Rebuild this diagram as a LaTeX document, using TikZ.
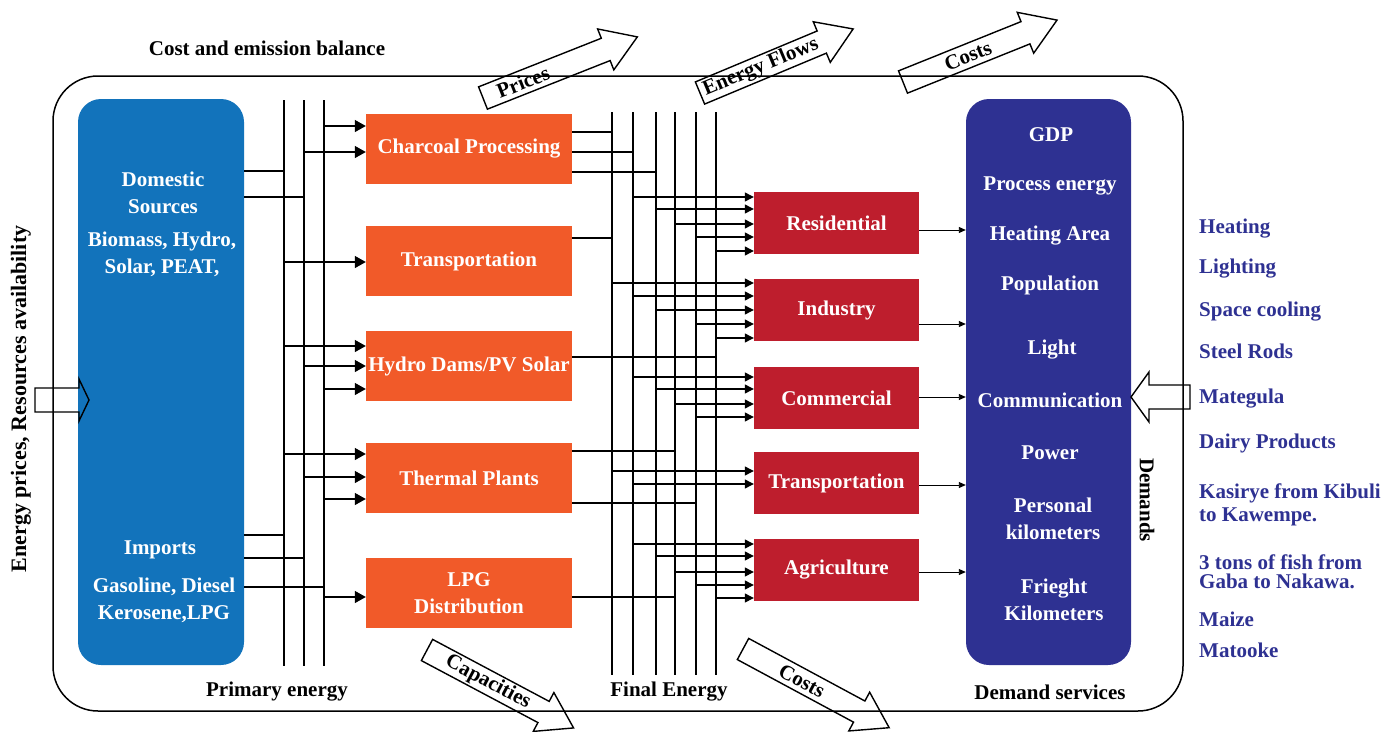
\documentclass[tikz,border=0pt]{standalone}
\usepackage{fontspec}
\setmainfont{Liberation Serif}
\usetikzlibrary{arrows.meta}
\definecolor{srcblue}{RGB}{18,115,187}
\definecolor{procorange}{RGB}{241,90,41}
\definecolor{secred}{RGB}{190,30,45}
\definecolor{demblue}{RGB}{46,49,146}
\newcommand\hollowarrow[5]{%
  \begin{scope}[shift={(#1,#2)},rotate=#3]
    \draw[hollowline] (0,-12) -- (132,-12) -- (132,-22) -- (166,0) -- (132,22) -- (132,12) -- (0,12) -- cycle;
    \node[lbl,rotate=#3] at (#4,0) {#5};
  \end{scope}}
\begin{document}
\begin{tikzpicture}[x=1pt,y=-1pt,
  lbl/.style={font=\fontsize{21}{27}\selectfont\bfseries, inner sep=0pt, align=center},
  srcbox/.style={fill=srcblue, rounded corners=23pt, minimum width=166pt, minimum height=566pt, inner sep=0pt},
  dembox/.style={fill=demblue, rounded corners=23pt, minimum width=165pt, minimum height=566pt, inner sep=0pt},
  procbox/.style={lbl, fill=procorange, text=white, minimum width=206pt, minimum height=70pt},
  secbox/.style={lbl, fill=secred, text=white, minimum width=165pt, minimum height=62pt},
  wtxt/.style={lbl, text=white},
  listtxt/.style={lbl, text=demblue, anchor=west},
  hollowline/.style={line width=1.4pt, line join=miter},
  bus/.style={line width=1.7pt},
  feed/.style={line width=1.7pt},
  tap/.style={line width=1.3pt, -{Triangle[length=11pt,width=12pt]}},
  tapb/.style={line width=1.2pt, -{Triangle[length=9pt,width=9pt]}},
  thinarr/.style={line width=0.9pt, -{Triangle[length=7pt,width=6pt]}}]
\useasboundingbox (0,0) rectangle (1397,731);

% outer frame
\draw[line width=1.5pt, rounded corners=45pt] (53,76) rectangle (1183,711);

% main blocks
\node[srcbox] (src) at (161,382) {};
\node[dembox] (dem) at (1048.5,382) {};

\node[procbox] (charcoal) at (469,149) {Charcoal Processing};
\node[procbox] (ptrans) at (469,261) {Transportation};
\node[procbox] (hydro) at (469,366) {Hydro Dams/PV Solar};
\node[procbox] (thermal) at (469,478) {Thermal Plants};
\node[procbox] (lpg) at (469,593) {LPG\\Distribution};

\node[secbox] (resid) at (836.5,223) {Residential};
\node[secbox] (indus) at (836.5,310) {Industry};
\node[secbox] (comm) at (836.5,398) {Commercial};
\node[secbox] (strans) at (836.5,483) {Transportation};
\node[secbox] (agri) at (836.5,570) {Agriculture};

% texts in source box
\node[wtxt] (dom) at (163,193) {Domestic\\Sources};
\node[wtxt] (bio) at (162,254) {Biomass, Hydro,\\Solar, PEAT,};
\node[wtxt] (imp) at (160,550) {Imports};
\node[wtxt] (gas) at (164,600) {Gasoline, Diesel\\Kerosene,LPG};

% texts in demand box
\node[wtxt] (gdp) at (1051,135) {GDP};
\node[wtxt] (proc) at (1050,186) {Process energy};
\node[wtxt] (heat) at (1050,236) {Heating Area};
\node[wtxt] (pop) at (1050,285) {Population};
\node[wtxt] (light) at (1052,350) {Light};
\node[wtxt] (commu) at (1050,400) {Communication};
\node[wtxt] (power) at (1050,453) {Power};
\node[wtxt] (pkm) at (1053,519) {Personal\\kilometers};
\node[wtxt] (fkm) at (1054,600) {Frieght\\Kilometers};

% bus lines
\coordinate (P1) at (284,100); \coordinate (P1b) at (284,666);
\coordinate (P2) at (304,100); \coordinate (P2b) at (304,666);
\coordinate (P3) at (324,100); \coordinate (P3b) at (324,666);
\draw[bus] (P1) -- (P1b); \draw[bus] (P2) -- (P2b); \draw[bus] (P3) -- (P3b);
\coordinate (F1) at (612,112); \coordinate (F1b) at (612,675);
\coordinate (F2) at (633,112); \coordinate (F2b) at (633,675);
\coordinate (F3) at (656,112); \coordinate (F3b) at (656,675);
\coordinate (F4) at (675,112); \coordinate (F4b) at (675,675);
\coordinate (F5) at (696,112); \coordinate (F5b) at (696,675);
\coordinate (F6) at (716,112); \coordinate (F6b) at (716,675);
\foreach \a in {F1,F2,F3,F4,F5,F6} {\draw[bus] (\a) -- (\a b);}

% source -> primary bus
\draw[feed] (src.east |- 0,171) -- (P1 |- 0,171);
\draw[feed] (src.east |- 0,197) -- (P2 |- 0,197);
\draw[feed] (src.east |- 0,535) -- (P1 |- 0,535);
\draw[feed] (src.east |- 0,558) -- (P2 |- 0,558);
\draw[feed] (src.east |- 0,587) -- (P3 |- 0,587);

% primary bus -> processing
\draw[tap] (P3 |- 0,126) -- (charcoal.west |- 0,126);
\draw[tap] (P2 |- 0,152) -- (charcoal.west |- 0,152);
\draw[tap] (P1 |- 0,262) -- (ptrans.west |- 0,262);
\draw[tap] (P1 |- 0,346) -- (hydro.west |- 0,346);
\draw[tap] (P2 |- 0,366) -- (hydro.west |- 0,366);
\draw[tap] (P3 |- 0,389) -- (hydro.west |- 0,389);
\draw[tap] (P1 |- 0,454) -- (thermal.west |- 0,454);
\draw[tap] (P2 |- 0,477) -- (thermal.west |- 0,477);
\draw[tap] (P3 |- 0,499) -- (thermal.west |- 0,499);
\draw[tap] (P3 |- 0,597) -- (lpg.west |- 0,597);

% processing -> final bus
\draw[feed] (charcoal.east |- 0,132) -- (F1 |- 0,132);
\draw[feed] (charcoal.east |- 0,152) -- (F2 |- 0,152);
\draw[feed] (charcoal.east |- 0,172) -- (F3 |- 0,172);
\draw[feed] (ptrans.east |- 0,238) -- (F1 |- 0,238);
\draw[feed] (hydro.east |- 0,357) -- (F6 |- 0,357);
\draw[feed] (thermal.east |- 0,451) -- (F4 |- 0,451);
\draw[feed] (thermal.east |- 0,503) -- (F5 |- 0,503);
\draw[feed] (lpg.east |- 0,597) -- (F4 |- 0,597);

% final bus -> sectors
\draw[tapb] (F2 |- 0,197) -- (resid.west |- 0,197);
\draw[tapb] (F3 |- 0,209) -- (resid.west |- 0,209);
\draw[tapb] (F4 |- 0,224) -- (resid.west |- 0,224);
\draw[tapb] (F5 |- 0,237) -- (resid.west |- 0,237);
\draw[tapb] (F6 |- 0,251) -- (resid.west |- 0,251);
\draw[tapb] (F1 |- 0,283) -- (indus.west |- 0,283);
\draw[tapb] (F2 |- 0,296) -- (indus.west |- 0,296);
\draw[tapb] (F3 |- 0,310) -- (indus.west |- 0,310);
\draw[tapb] (F5 |- 0,324) -- (indus.west |- 0,324);
\draw[tapb] (F6 |- 0,338) -- (indus.west |- 0,338);
\draw[tapb] (F2 |- 0,377) -- (comm.west |- 0,377);
\draw[tapb] (F3 |- 0,389) -- (comm.west |- 0,389);
\draw[tapb] (F4 |- 0,404) -- (comm.west |- 0,404);
\draw[tapb] (F5 |- 0,417) -- (comm.west |- 0,417);
\draw[tapb] (F1 |- 0,471) -- (strans.west |- 0,471);
\draw[tapb] (F2 |- 0,484) -- (strans.west |- 0,484);
\draw[tapb] (F2 |- 0,544) -- (agri.west |- 0,544);
\draw[tapb] (F3 |- 0,556) -- (agri.west |- 0,556);
\draw[tapb] (F4 |- 0,572) -- (agri.west |- 0,572);
\draw[tapb] (F5 |- 0,585) -- (agri.west |- 0,585);
\draw[tapb] (F6 |- 0,598) -- (agri.west |- 0,598);

% sectors -> demand services
\draw[thinarr] (resid.east |- 0,230) -- (dem.west |- 0,230);
\draw[thinarr] (indus.east |- 0,324) -- (dem.west |- 0,324);
\draw[thinarr] (comm.east |- 0,397) -- (dem.west |- 0,397);
\draw[thinarr] (strans.east |- 0,485) -- (dem.west |- 0,485);
\draw[thinarr] (agri.east |- 0,572) -- (dem.west |- 0,572);

% hollow input arrows
\draw[hollowline] (35,388) -- (79,388) -- (79,379) -- (89,400) -- (79,421) -- (79,412) -- (35,412) -- cycle;
\draw[hollowline] (1190,385) -- (1149,385) -- (1149,372) -- (1131,397) -- (1149,422) -- (1149,409) -- (1190,409) -- cycle;

% sloped hollow arrows
\hollowarrow{483}{98}{21.6}{43}{Prices}
\hollowarrow{700}{93}{22.7}{66}{Energy Flows}
\hollowarrow{903}{82}{21.9}{70}{Costs}
\hollowarrow{427}{650}{-28}{69}{Capacities}
\hollowarrow{743}{649}{-28.3}{67}{Costs}

% captions
\node[lbl] (cost) at (267,48) {Cost and emission balance};
\node[lbl] (prim) at (277,692) {Primary energy};
\node[lbl] (fin) at (669,692) {Final Energy};
\node[lbl] (dserv) at (1050,692) {Demand services};
\node[lbl, font=\fontsize{22}{26}\selectfont\bfseries, rotate=90] (eprice) at (21,399) {Energy prices, Resources availability};
\node[lbl, rotate=-90] (demands) at (1147,500) {Demands};

% right list
\node[listtxt] at (1199,229) {Heating};
\node[listtxt] at (1199,269) {Lighting};
\node[listtxt] at (1199,312) {Space cooling};
\node[listtxt] at (1199,351) {Steel Rods};
\node[listtxt] at (1199,399) {Mategula};
\node[listtxt] at (1199,443) {Dairy Products};
\node[listtxt] at (1199,493) {Kasirye from Kibuli};
\node[listtxt] at (1199,517) {to Kawempe.};
\node[listtxt] at (1199,562) {3 tons of fish from};
\node[listtxt] at (1199,581) {Gaba to Nakawa.};
\node[listtxt] at (1199,619) {Maize};
\node[listtxt] at (1199,650) {Matooke};
\end{tikzpicture}
\end{document}
